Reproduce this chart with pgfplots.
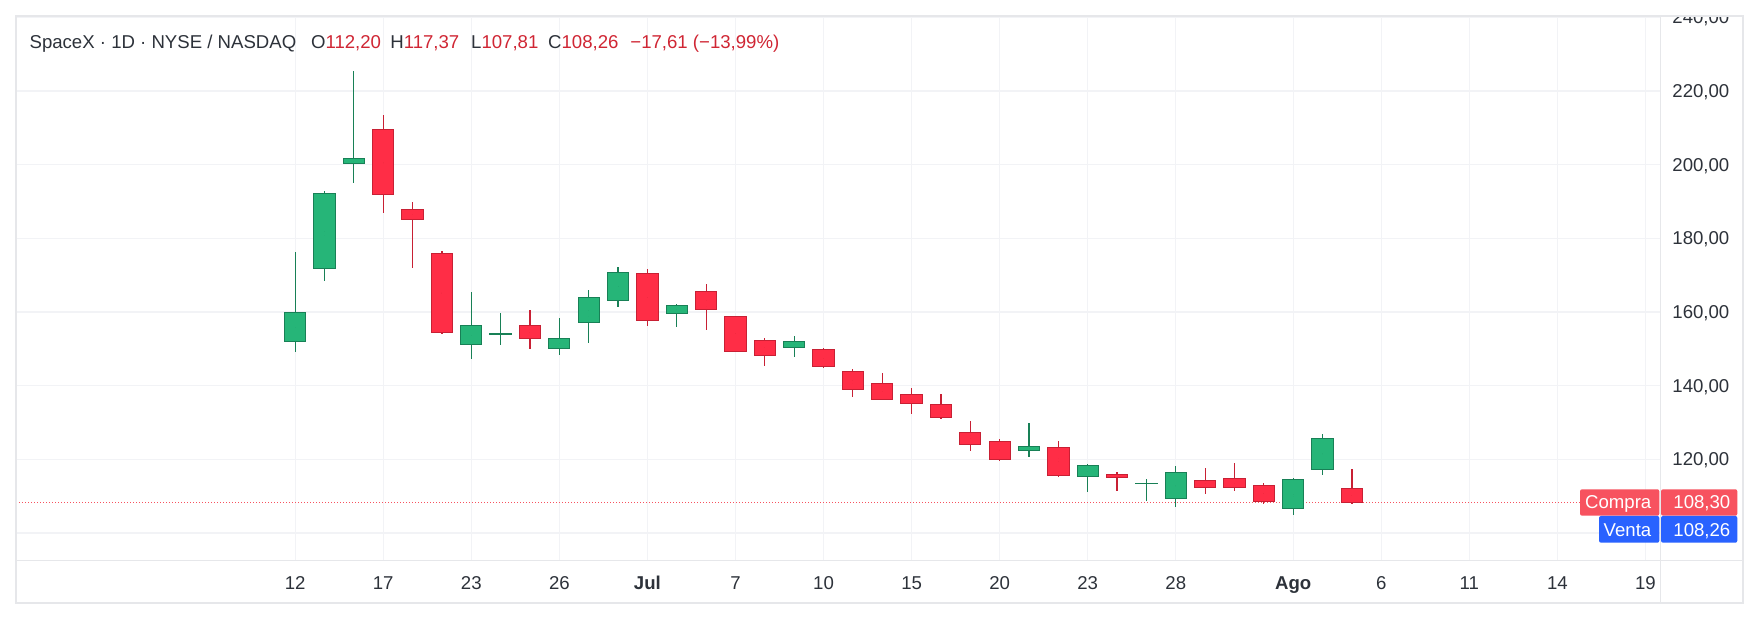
\documentclass[border=0pt]{standalone}
\usepackage{pgfplots}
\pgfplotsset{compat=1.18}
\usepackage{pgfplotstable}
\usepackage{fontspec}
\setmainfont{Liberation Sans}

\definecolor{upfill}{RGB}{38,181,120}
\definecolor{upline}{RGB}{24,128,86}
\definecolor{dnfill}{RGB}{255,45,70}
\definecolor{dnline}{RGB}{200,32,52}
\definecolor{gridc}{RGB}{242,243,246}
\definecolor{framec}{RGB}{230,231,234}
\definecolor{txt}{RGB}{45,50,58}
\definecolor{hdrred}{RGB}{208,38,52}
\definecolor{compra}{RGB}{247,82,95}
\definecolor{venta}{RGB}{41,98,255}

% index  open  high  low  close
\pgfplotstableread{
i O H L C
0 151.8 176.3 149.2 159.9
1 171.6 192.9 168.5 192.2
2 200.1 225.4 195.1 201.7
6 151.0 165.4 147.1 156.4
7 154.0 159.7 150.9 154.2
9 149.9 158.4 148.4 152.9
10 156.9 166.0 151.7 164.0
11 162.9 172.2 161.4 170.8
13 159.4 162.2 155.8 161.8
17 150.2 153.6 147.7 152.2
25 122.2 129.9 120.5 123.5
27 115.1 118.7 111.0 118.4
29 113.4 114.6 108.8 113.6
30 109.1 118.2 107.1 116.5
34 106.4 114.9 104.9 114.6
35 117.2 126.9 115.8 125.87
}\upc

\pgfplotstableread{
i O H L C
3 209.6 213.5 187.0 191.7
4 187.9 189.9 172.0 184.9
5 175.9 176.5 154.0 154.2
8 156.4 160.5 150.0 152.6
12 170.5 171.6 156.3 157.5
14 165.7 167.7 155.0 160.5
15 158.9 159.0 149.1 149.2
16 152.4 152.8 145.3 148.1
18 150.0 150.1 144.9 145.0
19 144.1 144.4 136.9 138.9
20 140.8 143.3 136.1 136.2
21 137.6 139.3 132.3 134.9
22 134.9 137.7 131.0 131.1
23 127.3 130.4 122.3 123.8
24 125.1 125.5 119.6 119.7
26 123.3 125.0 115.3 115.4
28 115.9 116.6 111.5 114.8
31 114.3 117.6 110.7 112.3
32 114.8 119.0 111.5 112.3
33 112.9 113.6 108.0 108.3
36 112.20 117.37 107.81 108.26
}\dnc

\pgfplotsset{nomark/.style={forget plot, only marks, mark size=0pt, mark options={draw=none, fill=none}}}

\newcommand\wicks[2]{%
\addplot[nomark,
  error bars/.cd, y dir=both, y explicit, error mark=none,
  error bar style={draw=#2, line width=0.6pt, solid}]
  table[x=i, y expr={(\thisrow{H}+\thisrow{L})/2}, y error expr={(\thisrow{H}-\thisrow{L})/2}] {#1};}
\newcommand\bodies[3]{%
\addplot[nomark,
  error bars/.cd, y dir=both, y explicit, error mark=none,
  error bar style={draw=#2, line width=11.15pt, solid, line cap=butt}]
  table[x=i, y expr={(\thisrow{O}+\thisrow{C})/2}, y error expr={max(abs(\thisrow{C}-\thisrow{O})/2,0.15)}] {#1};
\addplot[nomark,
  error bars/.cd, y dir=both, y explicit, error mark=none,
  error bar style={draw=#3, line width=10.15pt, solid, line cap=butt}]
  table[x=i, y expr={(\thisrow{O}+\thisrow{C})/2}, y error expr={max(abs(\thisrow{C}-\thisrow{O})/2-0.2715,0)}] {#1};}

\newcommand\fs{\fontsize{9.3pt}{11pt}\selectfont}

\begin{document}
\begin{tikzpicture}
\useasboundingbox (0,0) rectangle (880pt,310pt);
\fill[white] (0,0) rectangle (880pt,310pt);
\begin{axis}[
  at={(8pt,29.85pt)}, anchor=south west,
  scale only axis, width=822.35pt, height=272.3pt,
  xmin=-9.51, xmax=46.52, ymin=92.58, ymax=240.43,
  axis line style={draw=framec, line width=0.6pt},
  xtick={0,3,6,9,12,15,18,21,24,27,30,34,37,40,43,46},
  xticklabels={12,17,23,26,\textbf{Jul},7,10,15,20,23,28,\textbf{Ago},6,11,14,19},
  ytick={100,120,...,240},
  grid=major, major grid style={draw=gridc, line width=0.6pt},
  tick style={draw=none}, major tick length=0pt,
  tick label style={font=\fs, text=txt, inner sep=0pt},
  xticklabel style={anchor=base, yshift=-14.7pt},
  yticklabel pos=right,
  yticklabel style={anchor=base west, xshift=5.65pt, yshift=-3.33pt},
  scaled y ticks=false,
  /pgf/number format/.cd, fixed, fixed zerofill, precision=2, use comma, 1000 sep={}, assume math mode=true,
]
\addplot[forget plot, compra, line width=0.5pt, dash pattern=on 0.5pt off 1pt] coordinates {(-9.51,108.30) (46.52,108.30)};
\wicks{\upc}{upline}
\wicks{\dnc}{dnline}
\bodies{\upc}{upline}{upfill}
\bodies{\dnc}{dnline}{dnfill}
\end{axis}
% mask the part of the price scale above the pane
\fill[white] (0,302.15pt) rectangle (880pt,310pt);
% pane separators and frame
\draw[framec, line width=0.6pt] (8pt,29.85pt) -- (871.5pt,29.85pt);
\draw[framec, line width=0.6pt] (830.35pt,8.5pt) -- (830.35pt,302.15pt);
\draw[framec, line width=1pt] (8pt,8.5pt) rectangle (871.5pt,302.15pt);
% header
\begin{scope}[every node/.style={inner sep=0pt, anchor=base west, font=\fs}]
\node[text=txt] at (14.6pt,285.65pt) {SpaceX · 1D · NYSE / NASDAQ};
\node at (155.35pt,285.65pt) {\textcolor{txt}{O}\textcolor{hdrred}{112,20}};
\node at (195pt,285.65pt) {\textcolor{txt}{H}\textcolor{hdrred}{117,37}};
\node at (235.4pt,285.65pt) {\textcolor{txt}{L}\textcolor{hdrred}{107,81}};
\node at (273.9pt,285.65pt) {\textcolor{txt}{C}\textcolor{hdrred}{108,26}};
\node[text=hdrred] at (315pt,285.65pt) {−17,61 (−13,99\%)};
\end{scope}
% bid / ask labels
\fill[compra, rounded corners=1pt] (790pt,52.15pt) rectangle (829.65pt,65.35pt);
\fill[compra, rounded corners=1pt] (830.5pt,52.15pt) rectangle (868.65pt,65.35pt);
\fill[venta, rounded corners=1pt] (799.5pt,38.65pt) rectangle (829.65pt,52pt);
\fill[venta, rounded corners=1pt] (830.5pt,38.65pt) rectangle (868.65pt,52pt);
\begin{scope}[every node/.style={inner sep=0pt, font=\fs, text=white}]
\node[anchor=base east] at (825.85pt,55.65pt) {Compra};
\node[anchor=base west] at (836.5pt,55.65pt) {108,30};
\node[anchor=base east] at (825.85pt,41.8pt) {Venta};
\node[anchor=base west] at (836.5pt,41.8pt) {108,26};
\end{scope}
\end{tikzpicture}
\end{document}
